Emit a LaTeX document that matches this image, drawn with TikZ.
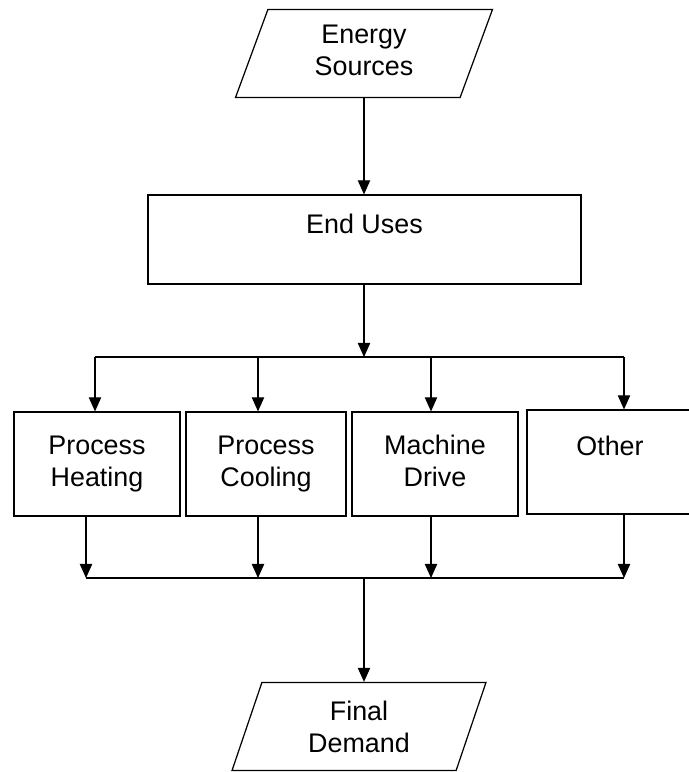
\documentclass[tikz,border=0pt]{standalone}
\usepackage{fontspec}
\setmainfont{Liberation Sans}
\usetikzlibrary{positioning,arrows.meta,shapes.geometric}

\begin{document}
\begin{tikzpicture}[
    x=0.02cm, y=-0.02cm,
    line width=0.7pt,
    every node/.style={font=\fontsize{15.3}{18.2}\selectfont, align=center},
    block/.style={draw, rectangle, inner sep=0pt, minimum height=2.08cm},
    iobox/.style={draw, trapezium, trapezium left angle=60, trapezium right angle=120,
                  trapezium stretches body, inner sep=0pt, minimum height=1.76cm},
    >={Triangle[width=7pt,length=8pt]}
]
\useasboundingbox (0,0) rectangle (689,772);

\node[iobox, minimum width=5.14cm] (src) at (364,53.5) {Energy\\Sources\vphantom{g}};
\node[block, minimum width=8.66cm, minimum height=1.78cm] (enduse) at (364.5,239.5) {End Uses\\~};

\node[block, minimum width=3.32cm] (heat) at (97,464) {Process\\Heating};
\node[block, minimum width=3.2cm] (cool) at (266,464) {Process\\Cooling};
\node[block, minimum width=3.32cm] (drive) at (435,464) {Machine\\Drive\vphantom{g}};
\node[block, minimum width=3.32cm] (other) at (610,462) {Other\\~};

\node[iobox, minimum width=5.08cm] (dem) at (359,726.5) {Final\\Demand};

\coordinate (split) at (364,357);
\coordinate (join) at (364,578);
\coordinate (t1) at (95,357);
\coordinate (t2) at (258,357);
\coordinate (t3) at (431,357);
\coordinate (t4) at (624,357);
\coordinate (b1) at (86,578);
\coordinate (b2) at (258,578);
\coordinate (b3) at (431,578);
\coordinate (b4) at (624,578);

\draw[->] (src.south -| split) -- (split |- enduse.north);
\draw[->] (split |- enduse.south) -- (split);
\draw (t1) -- (t4);
\draw (b1) -- (b4);

\foreach \i/\n in {1/heat,2/cool,3/drive,4/other}{
  \draw[->] (t\i) -- (t\i |- \n.north);
  \draw[->] (b\i |- \n.south) -- (b\i);
}

\draw[->] (join) -- (join |- dem.north);
\end{tikzpicture}
\end{document}
